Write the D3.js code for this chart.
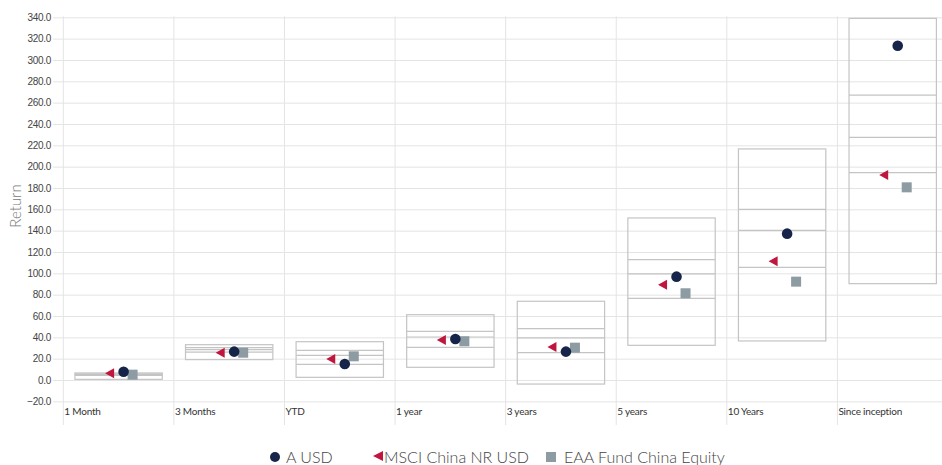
<!DOCTYPE html>
<html>
<head>
<meta charset="utf-8">
<script src="https://cdn.jsdelivr.net/npm/d3@7"></script>
<style>
  html, body { margin: 0; padding: 0; background: #fff; }
  svg { display: block; font-family: Lato, "Open Sans", sans-serif; }
</style>
</head>
<body>
<svg id="chart" width="942" height="465"></svg>
<script>
// Trailing-period returns: peer-group percentile box plus three markers
const categories = ["1 Month", "3 Months", "YTD", "1 year", "3 years", "5 years", "10 Years", "Since inception"];
const pctTop    = [6.6, 33.1, 35.9, 61.2, 73.8, 151.9, 216.6, 339.0];
const pctUpperQ = [5.8, 30.3, 27.8, 45.6, 48.1, 112.8, 160.0, 267.0];
const pctMedian = [5.0, 28.4, 23.1, 40.3, 39.4, 99.4, 140.3, 227.5];
const pctLowerQ = [4.2, 26.2, 14.7, 30.6, 25.6, 76.6, 105.6, 194.4];
const pctBottom = [0.6, 19.1, 2.5, 11.9, -3.8, 32.5, 36.6, 90.3];
const fundValues     = [7.8, 26.6, 15.0, 38.4, 26.6, 96.9, 137.2, 313.4];
const indexValues    = [6.3, 25.6, 19.7, 37.5, 30.9, 89.4, 111.3, 192.2];
const categoryValues = [5.0, 25.6, 22.2, 36.3, 30.3, 81.3, 92.2, 180.6];
const yTicks = d3.range(-20, 341, 20);
const seriesNames = ["A USD", "MSCI China NR USD", "EAA Fund China Equity"];

const colors = { fund: "#16244a", index: "#c0163d", cat: "#8d9ba3", box: "#c4c4c4", grid: "#e4e4e4", text: "#333" };

const svg = d3.select("#chart");
const plotLeft = 63.3, plotRight = 948, plotTop = 17.3, plotBottom = 380 + 20 * 1.0667;

const x = d3.scaleBand().domain(categories).range([plotLeft, plotRight]).paddingInner(0).paddingOuter(0);
const y = d3.scaleLinear().domain([-20, 340]).range([plotBottom, plotTop]);

// horizontal gridlines + y tick labels
const yAxis = d3.axisLeft(y).tickValues(yTicks).tickFormat(d3.format(".1f"))
  .tickSize(-(plotRight - 53)).tickPadding(2);
const gy = svg.append("g").attr("transform", `translate(53,0)`).call(yAxis);
gy.select(".domain").remove();
gy.selectAll(".tick line").attr("stroke", colors.grid).attr("stroke-width", 1);
gy.selectAll(".tick text").attr("fill", "#444").style("font-size", "10px").style("letter-spacing", "-0.3px");

// vertical category separators extending below the plot
svg.append("g").selectAll("line").data(categories).join("line")
  .attr("x1", d => x(d)).attr("x2", d => x(d))
  .attr("y1", plotTop - 1).attr("y2", 425)
  .attr("stroke", colors.grid).attr("stroke-width", 1);

// category labels
svg.append("g").selectAll("text").data(categories).join("text")
  .attr("x", d => x(d) + 1).attr("y", 415)
  .attr("fill", colors.text).style("font-size", "10px").style("letter-spacing", "-0.2px")
  .text(d => d);

// axis title
svg.append("text")
  .attr("transform", `translate(21,206) rotate(-90)`)
  .attr("text-anchor", "middle").attr("fill", "#777")
  .style("font-size", "15px").style("font-weight", 300)
  .text("Return");

// percentile boxes
const boxW = x.bandwidth() * 0.79;
const boxes = svg.append("g").selectAll("g").data(categories).join("g");
boxes.append("rect")
  .attr("x", d => x(d) + (x.bandwidth() - boxW) / 2)
  .attr("width", boxW)
  .attr("y", (d, i) => y(pctTop[i]))
  .attr("height", (d, i) => y(pctBottom[i]) - y(pctTop[i]))
  .attr("fill", "none")
  .attr("stroke", colors.box).attr("stroke-width", 1.2);
[pctUpperQ, pctMedian, pctLowerQ].forEach(arr => {
  boxes.append("line")
    .attr("x1", d => x(d) + (x.bandwidth() - boxW) / 2)
    .attr("x2", d => x(d) + (x.bandwidth() + boxW) / 2)
    .attr("y1", (d, i) => y(arr[i])).attr("y2", (d, i) => y(arr[i]))
    .attr("stroke", colors.box).attr("stroke-width", 1.2);
});

const cx = d => x(d) + x.bandwidth() / 2;
const triPath = "M-4.5,0L4.5,-5L4.5,5Z";

// index markers (left-pointing triangles)
svg.append("g").selectAll("path").data(categories).join("path")
  .attr("d", triPath)
  .attr("transform", (d, i) => `translate(${cx(d) - 9},${y(indexValues[i])})`)
  .attr("fill", colors.index);

// category average markers (squares)
svg.append("g").selectAll("rect").data(categories).join("rect")
  .attr("x", d => cx(d) + 14 - 5).attr("width", 10)
  .attr("y", (d, i) => y(categoryValues[i]) - 5).attr("height", 10)
  .attr("fill", colors.cat);

// fund markers (circles)
svg.append("g").selectAll("circle").data(categories).join("circle")
  .attr("cx", d => cx(d) + 5)
  .attr("cy", (d, i) => y(fundValues[i]))
  .attr("r", 5.3)
  .attr("fill", colors.fund);

// legend
const lg = svg.append("g").style("font-size", "16px").style("font-weight", 300);
lg.append("circle").attr("cx", 275).attr("cy", 457).attr("r", 5).attr("fill", colors.fund);
lg.append("text").attr("x", 286).attr("y", 463).attr("fill", "#444").text(seriesNames[0]);
lg.append("path").attr("d", "M-5,0L5,-5L5,5Z").attr("transform", "translate(378,456)").attr("fill", colors.index);
lg.append("text").attr("x", 384).attr("y", 463).attr("fill", "#444").text(seriesNames[1]);
lg.append("rect").attr("x", 546).attr("y", 452).attr("width", 10).attr("height", 10).attr("fill", colors.cat);
lg.append("text").attr("x", 564).attr("y", 463).attr("fill", "#444").text(seriesNames[2]);
</script>
</body>
</html>
